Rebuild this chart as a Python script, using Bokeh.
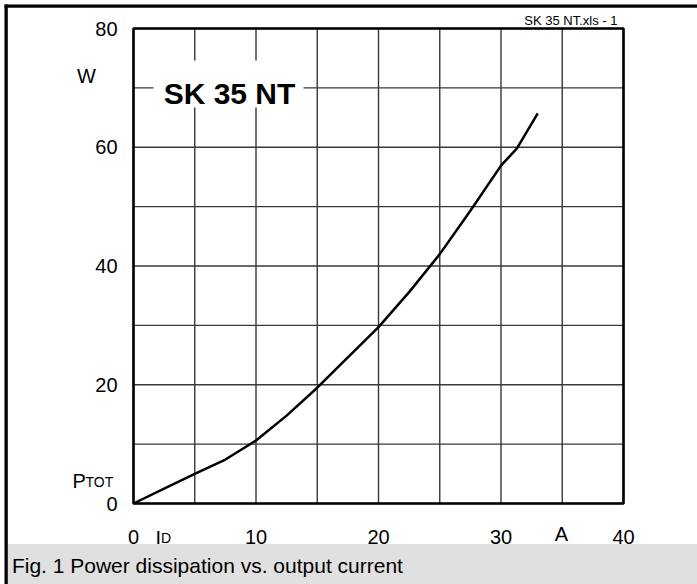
from bokeh.plotting import figure
from bokeh.models import Range1d
from bokeh.core.properties import value
from bokeh.embed import file_html
from bokeh.resources import INLINE

# ---------------- data ----------------
current_a = [0, 2.5, 5, 7.5, 10, 12.5, 15, 17.5, 20, 22.5, 25, 27.5, 30, 31.3, 33]
power_w = [0, 2.5, 5.0, 7.4, 10.6, 14.8, 19.5, 24.6, 29.7, 35.6, 42.0, 49.3, 56.9, 59.8, 65.7]

x_tick_values = [0, 10, 20, 30, 40]
y_tick_values = [0, 20, 40, 60, 80]
x_grid_values = [0, 5, 10, 15, 20, 25, 30, 35, 40]
y_grid_values = [0, 10, 20, 30, 40, 50, 60, 70, 80]

chart_title = "SK 35 NT"
file_tag = "SK 35 NT.xls - 1"
caption = "Fig. 1 Power dissipation vs. output current"
x_unit = "A"
y_unit = "W"

# ---------------- layout (pixels) ----------------
W, H = 697, 584
FL, FR, FT, FB = 133, 623, 28, 503
X0, X1, Y0, Y1 = 0, 40, 0, 80
KX = (FR - FL) / (X1 - X0)
KY = (FB - FT) / (Y1 - Y0)


def xp(px):
    return X0 + (px - FL) / KX


def yp(py):
    return Y0 + (FB - py) / KY


FONT = value("Liberation Sans")

p = figure(width=W, height=H,
           x_range=Range1d(xp(0), xp(W)), y_range=Range1d(yp(H), yp(0)),
           output_backend="svg", toolbar_location=None,
           x_axis_location=None, y_axis_location=None,
           min_border=0, min_border_left=0, min_border_right=0,
           min_border_top=0, min_border_bottom=0)
p.outline_line_color = None
p.background_fill_color = "white"
p.border_fill_color = "white"
p.grid.visible = False

# grid
n_x = len(x_grid_values)
n_y = len(y_grid_values)
p.segment(x0=x_grid_values, y0=[Y0] * n_x, x1=x_grid_values, y1=[Y1] * n_x,
          line_color="#383838", line_width=1.4)
p.segment(x0=[X0] * n_y, y0=y_grid_values, x1=[X1] * n_y, y1=y_grid_values,
          line_color="#383838", line_width=1.4)

# title box
p.quad(left=[xp(153)], right=[xp(303)], top=[yp(60)], bottom=[yp(107)],
       fill_color="white", line_color=None)
p.text(x=[X0], y=[Y1], text=[chart_title], x_offset=96, y_offset=65,
       text_font=FONT, text_font_style="bold", text_font_size="30px",
       text_align="center", text_baseline="alphabetic", text_color="black")

# curve
p.line(current_a, power_w, line_color="black", line_width=2.5, line_join="round")

# frame
p.quad(left=[X0], right=[X1], bottom=[Y0], top=[Y1], fill_color=None,
       line_color="black", line_width=2.6)

# tick labels
p.text(x=[X0] * len(y_tick_values), y=y_tick_values,
       text=[str(v) for v in y_tick_values], x_offset=-16,
       text_font=FONT, text_font_size="20px", text_align="right",
       text_baseline="middle", text_color="black")
p.text(x=x_tick_values, y=[Y0] * len(x_tick_values),
       text=[str(v) for v in x_tick_values], y_offset=33,
       text_font=FONT, text_font_size="20px", text_align="center",
       text_baseline="middle", text_color="black")

# axis names / units
p.text(x=[X0], y=[Y1], text=[y_unit], x_offset=-47, y_offset=47,
       text_font=FONT, text_font_size="20px", text_align="center",
       text_baseline="alphabetic", text_color="black")
p.text(x=[X0], y=[Y0], text=["P"], x_offset=-61, y_offset=-23,
       text_font=FONT, text_font_size="20px", text_align="left",
       text_baseline="alphabetic", text_color="black")
p.text(x=[X0], y=[Y0], text=["TOT"], x_offset=-48, y_offset=-22,
       text_font=FONT, text_font_size="14px", text_align="left",
       text_baseline="alphabetic", text_color="black")
p.text(x=[X1], y=[Y0], text=[x_unit], x_offset=-62, y_offset=30,
       text_font=FONT, text_font_size="20px", text_align="center",
       text_baseline="alphabetic", text_color="black")
p.text(x=[X0], y=[Y0], text=["I"], x_offset=22, y_offset=34,
       text_font=FONT, text_font_size="20px", text_align="left",
       text_baseline="alphabetic", text_color="black")
p.text(x=[X0], y=[Y0], text=["D"], x_offset=27.5, y_offset=34.5,
       text_font=FONT, text_font_size="14px", text_align="left",
       text_baseline="alphabetic", text_color="black")
p.text(x=[X1], y=[Y1], text=[file_tag], x_offset=-6, y_offset=-8,
       text_font=FONT, text_font_size="13px", text_align="right",
       text_baseline="alphabetic", text_color="black")

# caption band
p.quad(left=[xp(7.3)], right=[xp(W + 2)], top=[yp(543.5)], bottom=[yp(H + 2)],
       fill_color="#e0e0e0", line_color=None)
p.text(x=[X0], y=[Y0], text=[caption], x_offset=-121.6, y_offset=62,
       text_font=FONT, text_font_size="21px", text_align="left",
       text_baseline="alphabetic", text_color="black")

# outer border (left and top)
p.quad(left=[xp(4), xp(4)], right=[xp(7.3), xp(W + 2)],
       top=[yp(4), yp(4)], bottom=[yp(H + 2), yp(7.3)],
       fill_color="black", line_color=None)

open("out.html", "w").write(file_html(p, INLINE))
